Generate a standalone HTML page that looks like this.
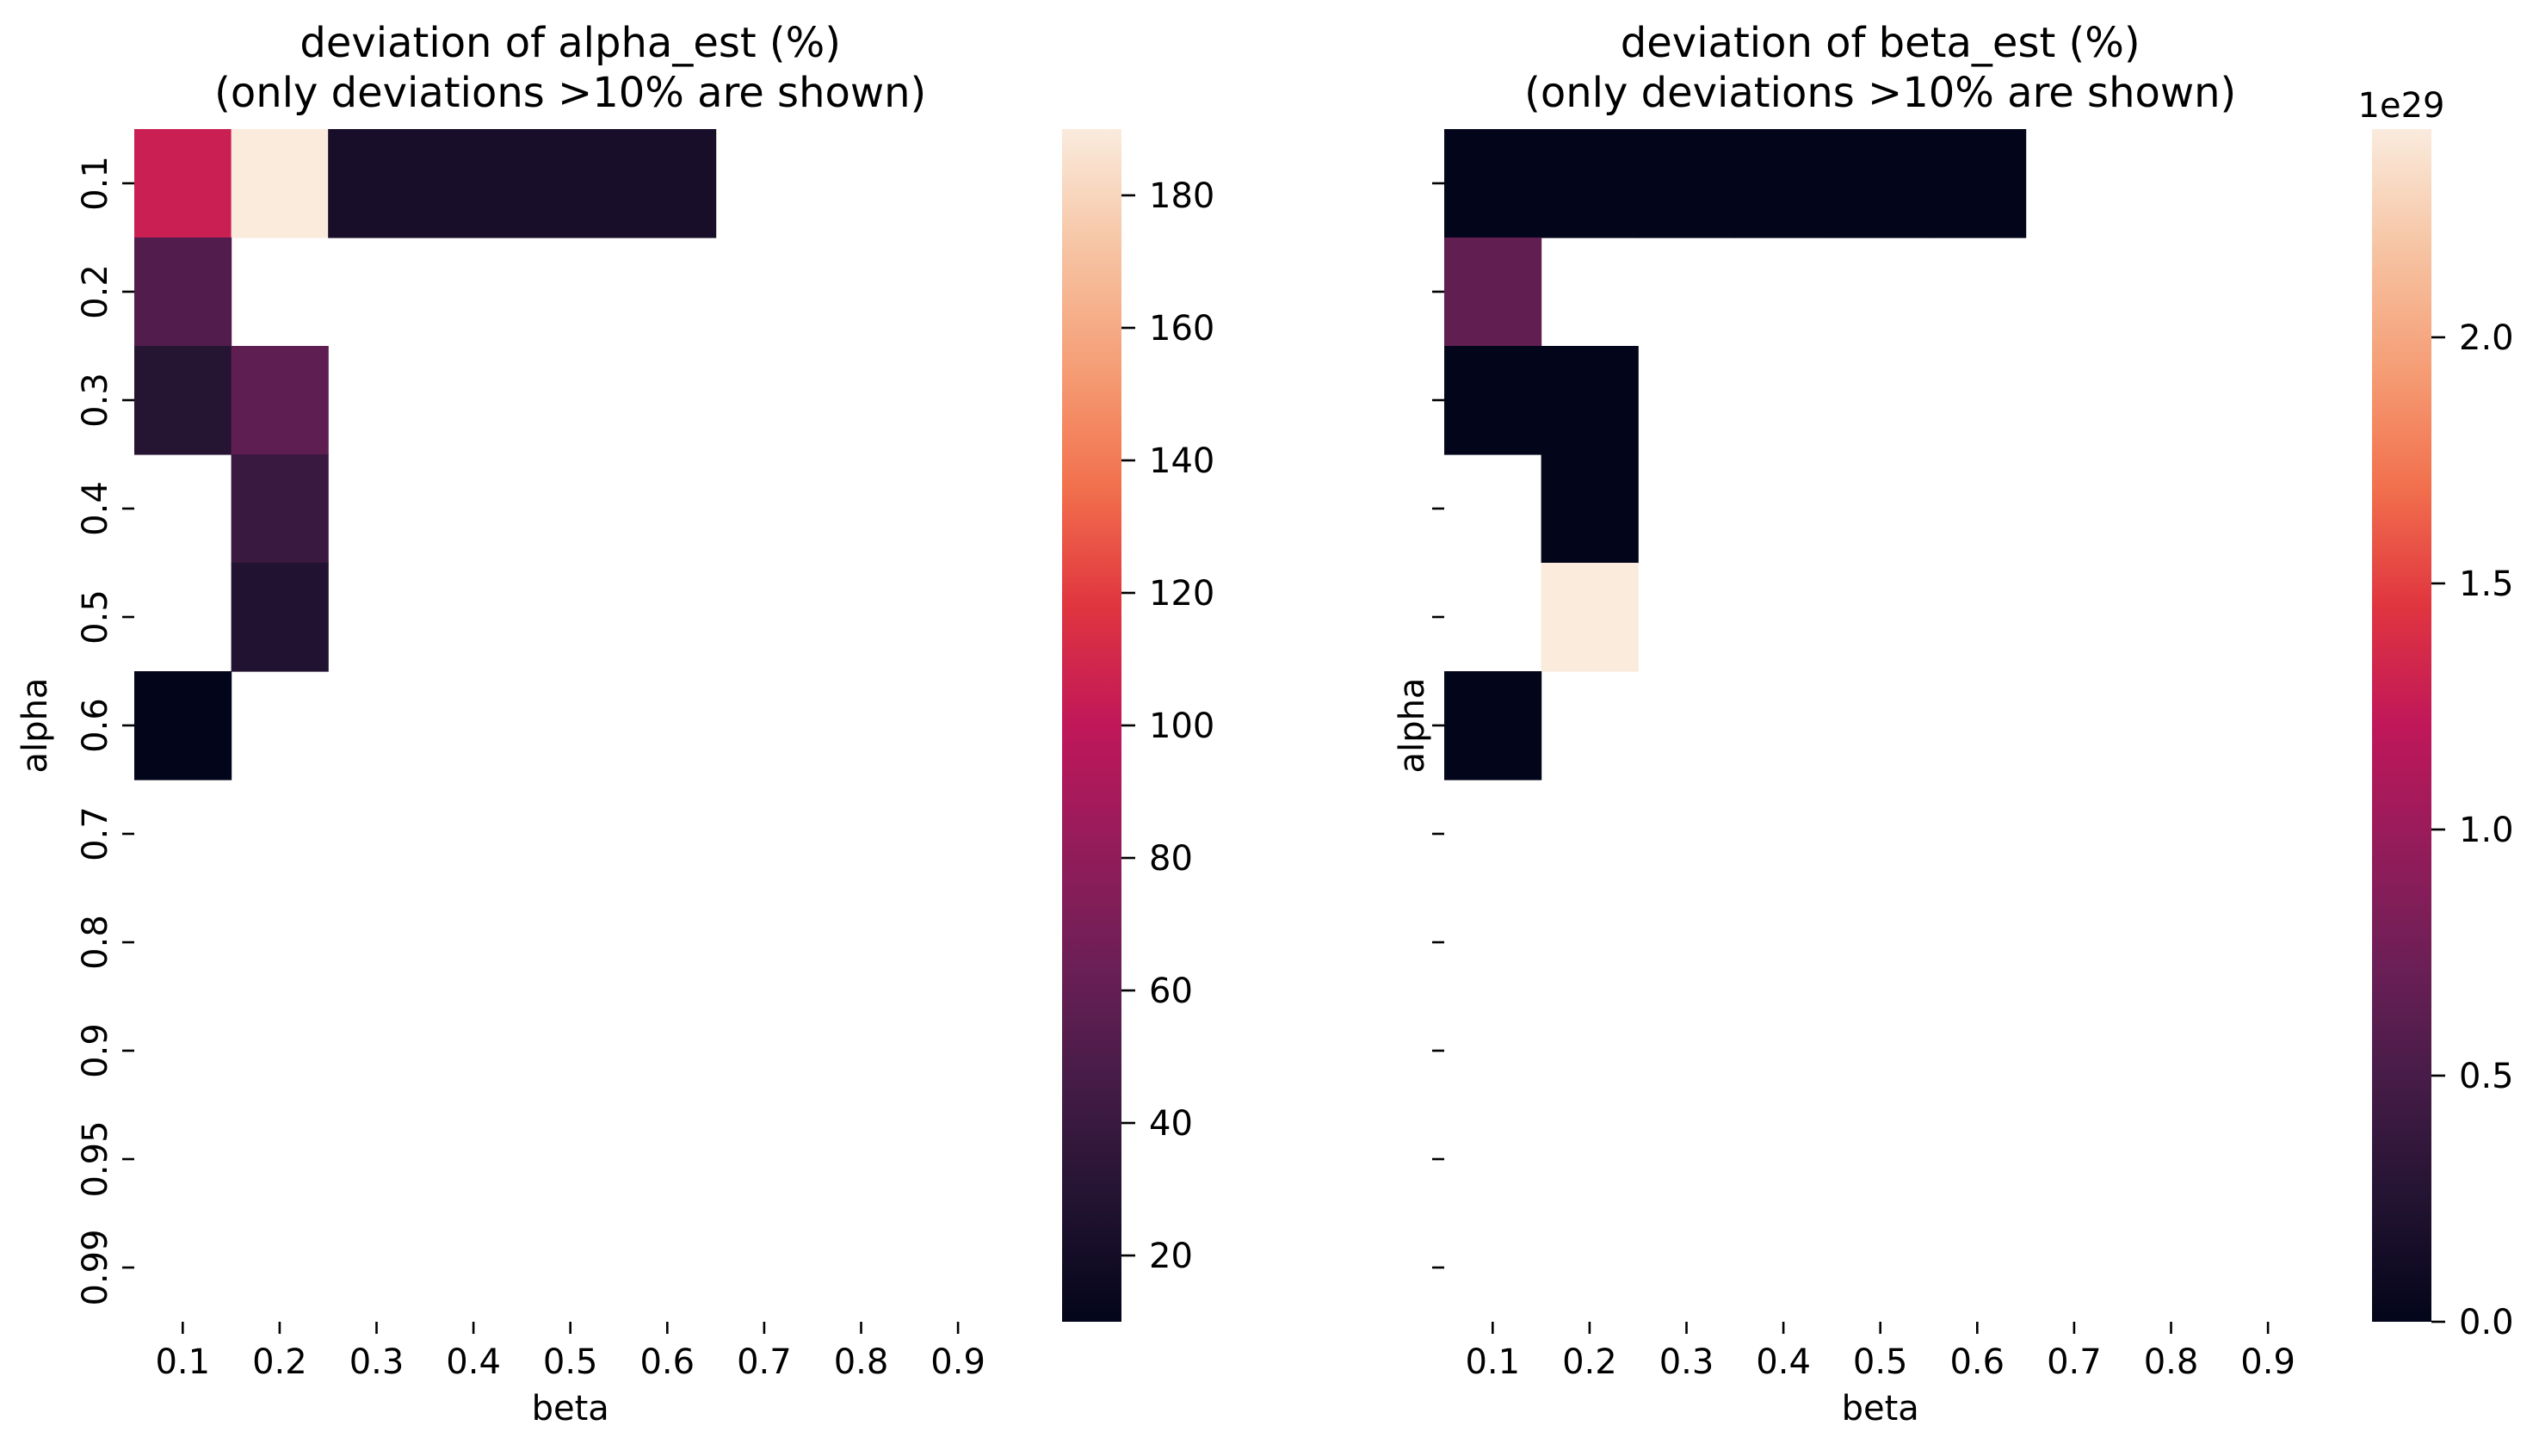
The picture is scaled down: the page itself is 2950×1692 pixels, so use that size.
<!DOCTYPE html>
<html><head><meta charset="utf-8"><style>
html,body{margin:0;padding:0;background:#fff;}
svg{display:block;font-family:"DejaVu Sans","Liberation Sans",sans-serif;}
</style></head><body>
<svg id="fig" width="2950" height="1692" viewBox="0 0 2950 1692" xmlns="http://www.w3.org/2000/svg">
<defs>
<linearGradient id="rocketL" x1="0" y1="1" x2="0" y2="0"></linearGradient>
<linearGradient id="rocketR" x1="0" y1="1" x2="0" y2="0"></linearGradient>
</defs>
<g id="left"></g>
<g id="right"></g>
</svg>
<script>
const betaCats = ["0.1","0.2","0.3","0.4","0.5","0.6","0.7","0.8","0.9"];
const alphaCats = ["0.1","0.2","0.3","0.4","0.5","0.6","0.7","0.8","0.9","0.95","0.99"];
// alpha deviation (%) ; null = not shown
const alphaDev = [
 [105,190,22,22,22,22,null,null,null],
 [52,null,null,null,null,null,null,null,null],
 [30,58,null,null,null,null,null,null,null],
 [null,40,null,null,null,null,null,null,null],
 [null,27,null,null,null,null,null,null,null],
 [10,null,null,null,null,null,null,null,null],
 [null,null,null,null,null,null,null,null,null],
 [null,null,null,null,null,null,null,null,null],
 [null,null,null,null,null,null,null,null,null],
 [null,null,null,null,null,null,null,null,null],
 [null,null,null,null,null,null,null,null,null]
];
// beta deviation (%), units of 1e29
const betaDev = [
 [0,0,0,0,0,0,null,null,null],
 [0.65,null,null,null,null,null,null,null,null],
 [0,0,null,null,null,null,null,null,null],
 [null,0,null,null,null,null,null,null,null],
 [null,2.42,null,null,null,null,null,null,null],
 [0,null,null,null,null,null,null,null,null],
 [null,null,null,null,null,null,null,null,null],
 [null,null,null,null,null,null,null,null,null],
 [null,null,null,null,null,null,null,null,null],
 [null,null,null,null,null,null,null,null,null],
 [null,null,null,null,null,null,null,null,null]
];
const alphaRange = [10, 190];
const betaRange = [0, 2.423];
const alphaCbTicks = [20,40,60,80,100,120,140,160,180];
const betaCbTicks = [0.0,0.5,1.0,1.5,2.0];

const NS="http://www.w3.org/2000/svg";
const stops=[[0,"#03051a"],[0.1,"#221331"],[0.2,"#451c47"],[0.3,"#6c1f56"],[0.4,"#951c5b"],[0.5,"#c0175a"],[0.6,"#e0353f"],[0.7,"#f2704d"],[0.8,"#f59e76"],[0.9,"#f6c4a3"],[1,"#faebdd"]];
function hx(h){return [1,3,5].map(i=>parseInt(h.substr(i,2),16));}
function cmap(t){t=Math.max(0,Math.min(1,t));for(let i=1;i<stops.length;i++){if(t<=stops[i][0]){const a=stops[i-1],b=stops[i];const f=(t-a[0])/(b[0]-a[0]);const ca=hx(a[1]),cb=hx(b[1]);return "rgb("+ca.map((v,k)=>Math.round(v+(cb[k]-v)*f)).join(",")+")";}}return stops[stops.length-1][1];}
function mk(tag,attrs,parent,txt){const e=document.createElementNS(NS,tag);for(const k in attrs)e.setAttribute(k,attrs[k]);if(txt!==undefined)e.textContent=txt;parent.appendChild(e);return e;}
["rocketL","rocketR"].forEach(id=>{const g=document.getElementById(id);stops.forEach(s=>mk("stop",{offset:s[0],"stop-color":s[1]},g));});

const TOP=150,BOT=1536,RH=(BOT-TOP)/11,CW=112.6;
function yPos(i){return TOP+i*RH;}
function draw(gid,x0,data,range,cbX,cbTicks,grad,showYLabels,title,fmt,expo){
  const g=document.getElementById(gid);
  const xPos=j=>x0+j*CW;
  data.forEach((row,i)=>row.forEach((v,j)=>{
    if(v===null)return;
    const r=mk("rect",{x:xPos(j),y:yPos(i),width:CW+0.6,height:RH+0.6,fill:cmap((v-range[0])/(range[1]-range[0]))},g);
    
    
  }));
  betaCats.forEach((c,j)=>{
    const cx=xPos(j)+CW/2;
    const t=mk("line",{x1:cx,x2:cx,y1:BOT,y2:BOT+14,stroke:"#000","stroke-width":2.6},g);
    
    
    const l=mk("text",{x:cx,y:BOT+60,"font-size":40,"text-anchor":"middle"},g,c);
    
    
  });
  alphaCats.forEach((c,i)=>{
    const cy=yPos(i)+RH/2;
    const t=mk("line",{x1:x0-14,x2:x0,y1:cy,y2:cy,stroke:"#000","stroke-width":2.6},g);
    
    
    if(showYLabels){
      const l=mk("text",{x:0,y:0,"font-size":40,"text-anchor":"middle",transform:"translate("+(x0-32)+","+cy+") rotate(-90)"},g,c);
      
      
    }
  });
  const cx=x0+4.5*CW;
  const xl=mk("text",{x:cx,y:BOT+114,"font-size":40,"text-anchor":"middle"},g,"beta");
  
  
  const ylx=showYLabels?54:x0-24;
  const yl=mk("text",{x:0,y:0,"font-size":40,"text-anchor":"middle",transform:"translate("+ylx+","+((TOP+BOT)/2)+") rotate(-90)"},g,"alpha");
  
  
  const t1=mk("text",{x:cx,y:66,"font-size":48,"text-anchor":"middle"},g,title);
  
  
  const t2=mk("text",{x:cx,y:124,"font-size":48,"text-anchor":"middle"},g,"(only deviations >10% are shown)");
  
  
  const cb=mk("rect",{x:cbX,y:TOP,width:69,height:BOT-TOP,fill:"url(#"+grad+")"},g);
  
  
  const cy=v=>BOT-(v-range[0])/(range[1]-range[0])*(BOT-TOP);
  cbTicks.forEach(v=>{
    const y=cy(v);
    const t=mk("line",{x1:cbX+69,x2:cbX+85,y1:y,y2:y,stroke:"#000","stroke-width":2.6},g);
    
    
    const l=mk("text",{x:cbX+101,y:y+14,"font-size":40},g,fmt(v));
    
    
  });
  if(expo){
    const e=mk("text",{x:cbX+34,y:136,"font-size":40,"text-anchor":"middle"},g,expo);
    
    
  }
}
draw("left",156,alphaDev,alphaRange,1234,alphaCbTicks,"rocketL",true,"deviation of alpha_est (%)",v=>String(v),null);
draw("right",1678,betaDev,betaRange,2756,betaCbTicks,"rocketR",false,"deviation of beta_est (%)",v=>v.toFixed(1),"1e29");
</script>
</body></html>
